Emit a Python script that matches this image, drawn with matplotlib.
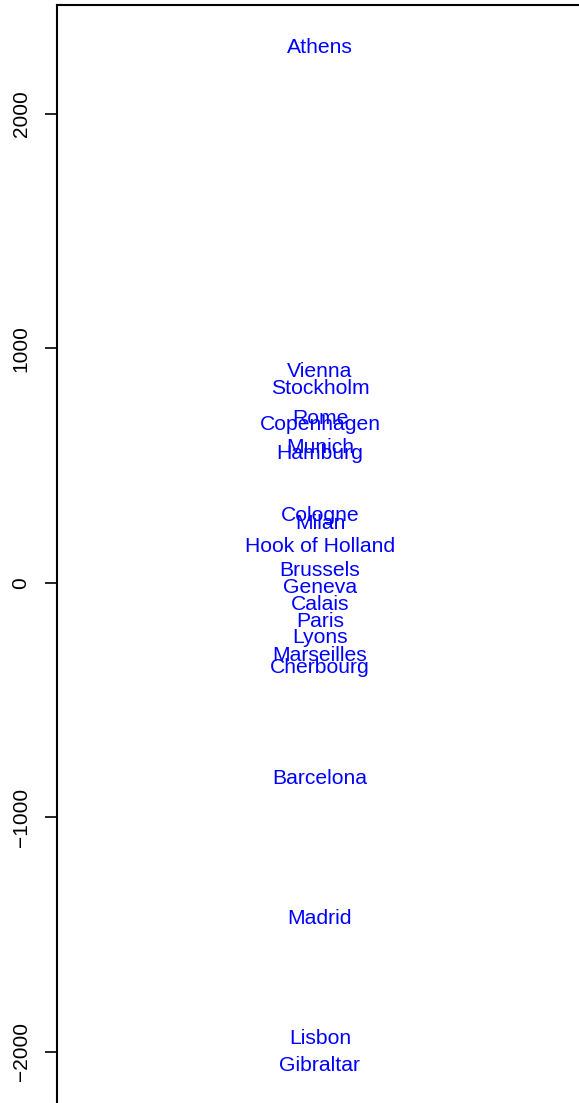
import numpy as np
import matplotlib
matplotlib.use('Agg')
import matplotlib.pyplot as plt
from matplotlib.transforms import offset_copy

# first coordinate of classical MDS on European road distances
cities = ['Athens', 'Barcelona', 'Brussels', 'Calais', 'Cherbourg', 'Cologne',
          'Copenhagen', 'Geneva', 'Gibraltar', 'Hamburg', 'Hook of Holland',
          'Lisbon', 'Lyons', 'Madrid', 'Marseilles', 'Milan', 'Munich',
          'Paris', 'Rome', 'Stockholm', 'Vienna']
coord = [2290.27, -825.38, 59.18, -82.85, -352.50, 293.69,
         681.93, -9.42, -2048.45, 561.11, 164.92,
         -1935.04, -226.42, -1423.35, -299.50, 260.88, 587.68,
         -156.84, 709.41, 839.45, 911.23]
yticks = [-2000, -1000, 0, 1000, 2000]

plt.rcParams['font.family'] = ['Liberation Sans', 'DejaVu Sans']

fig = plt.figure(figsize=(5.79, 11.03), dpi=100)
ax = fig.add_axes([57 / 579, -1 / 1103, 526 / 579, 1099 / 1103])

# centre labels on the cap height, like R's text()
trans = offset_copy(ax.transData, fig=fig, x=0, y=-5.4, units='points')
for name, y in zip(cities, coord):
    ax.text(0, y, name, color='blue', fontsize=15.2, ha='center',
            va='baseline', transform=trans)

ax.set_xlim(-1, 1)
ax.set_ylim(-2222, 2464)
ax.set_xticks([])
ax.set_yticks(yticks)
ax.set_yticklabels([str(t).replace('-', '\u2212') for t in yticks],
                   rotation=90, va='center', fontsize=15)
ax.tick_params(axis='y', length=9, width=1.2, pad=10)
for s in ['bottom', 'right']:
    ax.spines[s].set_visible(False)
for s in ['top', 'left']:
    ax.spines[s].set_linewidth(1.5)

plt.savefig('out.png', dpi=100)
